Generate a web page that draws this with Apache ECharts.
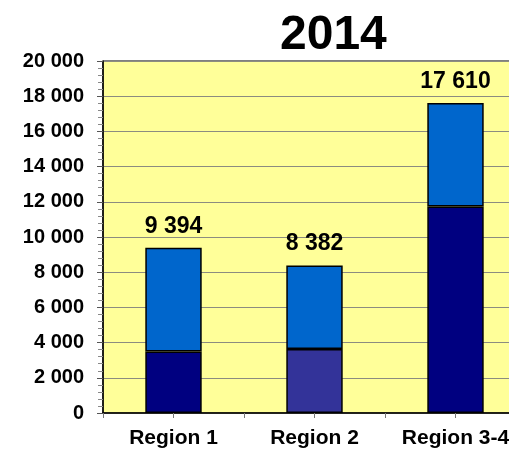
<!DOCTYPE html>
<html>
<head>
<meta charset="utf-8">
<script src="https://cdn.jsdelivr.net/npm/echarts@6/dist/echarts.min.js"></script>
<style>
    * { margin: 0; padding: 0; }
    #main { width: 509px; height: 452px; background: #fff; }
</style>
</head>
<body>
<div id="main"></div>
<script>
    // data
    var regions = ['Region 1', 'Region 2', 'Region 3-4'];
    var totals = [9394, 8382, 17610];
    var lower = [3500, 3630, 11730];
    var lowerColors = ['#000080', '#333399', '#000080'];
    var yTicks = [0, 2000, 4000, 6000, 8000, 10000, 12000, 14000, 16000, 18000, 20000];

    function fmt(v) {
        return String(v).replace(/\B(?=(\d{3})+(?!\d))/g, ' ');
    }

    var upper = totals.map(function (t, i) { return t - lower[i]; });

    var myChart = echarts.init(document.getElementById('main'));
    var option = {
        animation: false,
        title: {
            text: '2014',
            left: 275,
            top: 7,
            textStyle: { fontFamily: 'Liberation Sans', fontSize: 48, fontWeight: 'bold', color: '#000' }
        },
        grid: {
            left: 103, top: 61, width: 423, height: 352,
            outerBoundsMode: 'none',
            containLabel: false,
            show: true, backgroundColor: '#FFFF99', borderColor: '#000', borderWidth: 1
        },
        xAxis: [{
            type: 'category',
            data: regions,
            axisLine: { lineStyle: { color: '#000', width: 1.5 } },
            axisTick: { show: false },
            axisLabel: { interval: 0, margin: 15, fontFamily: 'Liberation Sans', fontSize: 21, fontWeight: 'bold', color: '#000' }
        }, {
            // tick marks at centres and boundaries of the categories
            type: 'value',
            position: 'top',
            offset: -352,
            min: 0, max: regions.length, interval: 0.5,
            axisLine: { show: false },
            axisTick: { show: true, inside: true, length: 5, lineStyle: { color: '#777' } },
            axisLabel: { show: false },
            splitLine: { show: false }
        }],
        yAxis: {
            type: 'value',
            min: yTicks[0],
            max: yTicks[yTicks.length - 1],
            interval: yTicks[1] - yTicks[0],
            axisLine: { show: true, lineStyle: { color: '#000', width: 1.5 } },
            axisTick: { show: true, length: 6, lineStyle: { color: '#555' } },
            minorTick: { show: true, splitNumber: 5, length: 5, lineStyle: { color: '#888' } },
            splitLine: { lineStyle: { color: '#8c8c80', width: 1 } },
            axisLabel: {
                margin: 19,
                fontFamily: 'Liberation Sans', fontSize: 20, fontWeight: 'bold', color: '#000',
                formatter: function (v) { return fmt(v); }
            }
        },
        series: [{
            type: 'bar',
            stack: 'a',
            barWidth: '40%',
            data: lower.map(function (v, i) {
                return { value: v, itemStyle: { color: lowerColors[i] } };
            }),
            itemStyle: { borderColor: '#000', borderWidth: 1.5 }
        }, {
            type: 'bar',
            stack: 'a',
            barWidth: '40%',
            data: upper,
            itemStyle: { color: '#0066CC', borderColor: '#000', borderWidth: 1.5 },
            label: {
                show: true,
                position: 'top',
                distance: 10,
                fontFamily: 'Liberation Sans', fontSize: 23, fontWeight: 'bold', color: '#000',
                formatter: function (p) { return fmt(totals[p.dataIndex]); }
            }
        }]
    };
    myChart.setOption(option);
</script>
</body>
</html>
